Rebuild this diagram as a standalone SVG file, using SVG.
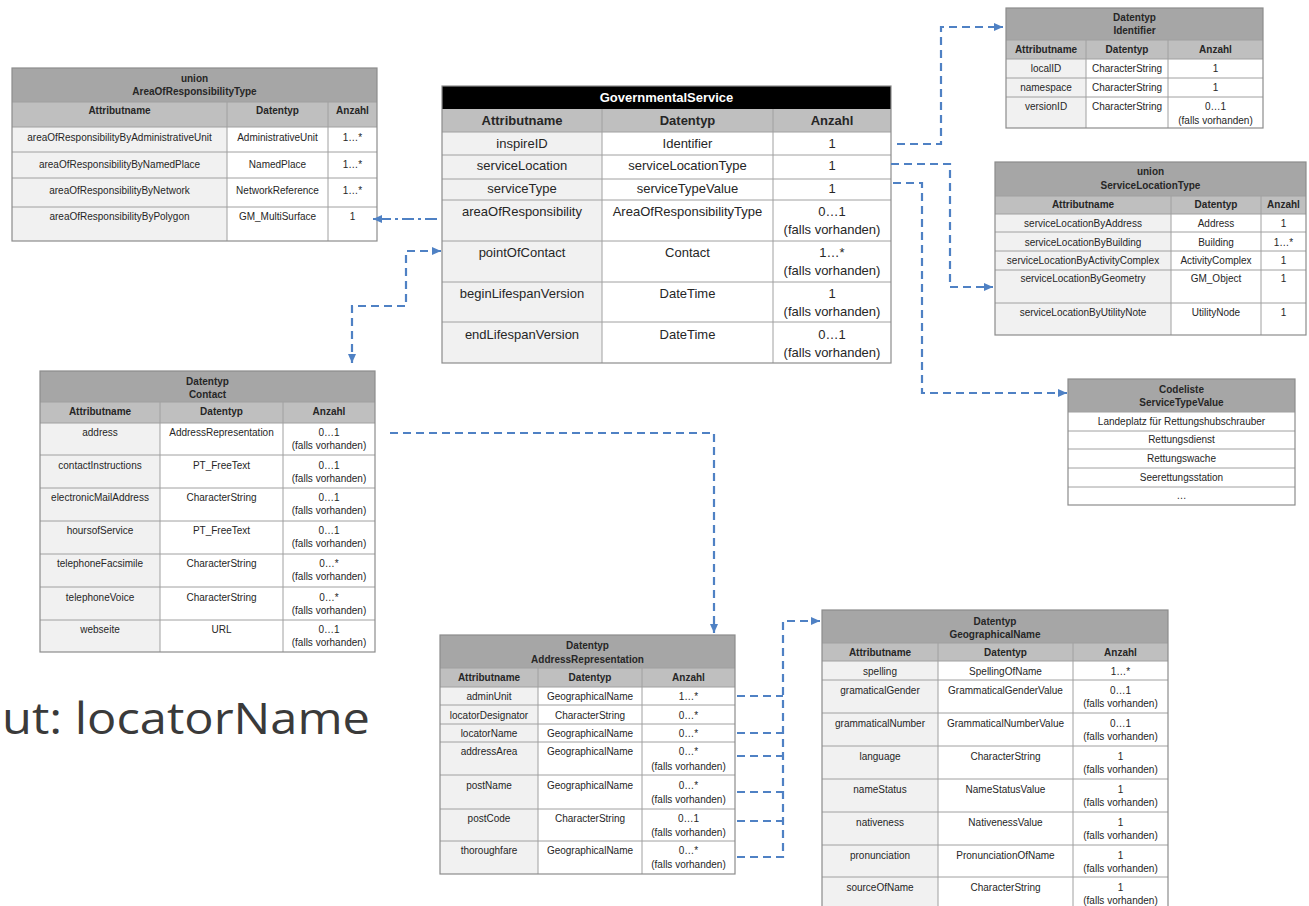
<svg xmlns="http://www.w3.org/2000/svg" width="1309" height="906" viewBox="0 0 1309 906">
<defs>
<style>
.hd{fill:#a6a6a6}
.ch{fill:#bfbfbf}
.c1{fill:#f1f1f1}
.cw{fill:#ffffff}
.ln{fill:none;stroke:#a0a0a0;stroke-width:1}
.ob{fill:none;stroke:#8c8c8c;stroke-width:1.2}
text{font-family:"Liberation Sans",Arial,sans-serif;fill:#262626;text-anchor:middle}
.s{font-size:10px}
.sb{font-size:10px;font-weight:bold}
.l{font-size:13px}
.lb{font-size:13px;font-weight:bold}
.wh{fill:#ffffff}
.cap{font-family:"Open Sans","DejaVu Sans",sans-serif;font-size:44px;fill:#3a3a3a;text-anchor:start}
.cn{fill:none;stroke:#4f81c4;stroke-width:2.2;stroke-dasharray:8 5}
.dd{fill:none;stroke:#4f81c4;stroke-width:2.2;stroke-dasharray:12 4 3 4}
</style>
<marker id="ar" markerUnits="userSpaceOnUse" markerWidth="9" markerHeight="8" refX="9" refY="4" orient="auto-start-reverse">
<path d="M0,0 L9,4 L0,8 z" fill="#4f81c4"/>
</marker>
</defs>
<rect width="1309" height="906" fill="#ffffff"/>

<!-- AreaOfResponsibilityType -->
<g id="aor">
<rect class="hd" x="12" y="68" width="365" height="34"/>
<rect class="ch" x="12" y="102" width="365" height="25"/>
<rect class="c1" x="12" y="127" width="215" height="114"/>
<rect class="cw" x="227" y="127" width="150" height="114"/>
<path class="ln" d="M12 102H377M12 127H377M12 152H377M12 178H377M12 207H377M227 102V241M328 102V241"/>
<rect class="ob" x="12" y="68" width="365" height="173"/>
<text class="sb" x="194.5" y="82">union</text>
<text class="sb" x="194.5" y="95">AreaOfResponsibilityType</text>
<text class="sb" x="119.5" y="113.5">Attributname</text>
<text class="sb" x="277.5" y="113.5">Datentyp</text>
<text class="sb" x="352.5" y="113.5">Anzahl</text>
<text class="s" x="119.5" y="140.5">areaOfResponsibilityByAdministrativeUnit</text>
<text class="s" x="277.5" y="140.5">AdministrativeUnit</text>
<text class="s" x="352.5" y="140.5">1…*</text>
<text class="s" x="119.5" y="167.5">areaOfResponsibilityByNamedPlace</text>
<text class="s" x="277.5" y="167.5">NamedPlace</text>
<text class="s" x="352.5" y="167.5">1…*</text>
<text class="s" x="119.5" y="193.5">areaOfResponsibilityByNetwork</text>
<text class="s" x="277.5" y="193.5">NetworkReference</text>
<text class="s" x="352.5" y="193.5">1…*</text>
<text class="s" x="119.5" y="219.5">areaOfResponsibilityByPolygon</text>
<text class="s" x="277.5" y="219.5">GM_MultiSurface</text>
<text class="s" x="352.5" y="219.5">1</text>
</g>

<!-- GovernmentalService -->
<g id="gs">
<rect x="442" y="86" width="449" height="23" fill="#000000"/>
<rect class="ch" x="442" y="109" width="449" height="23"/>
<rect class="c1" x="442" y="132" width="160" height="231"/>
<rect class="cw" x="602" y="132" width="289" height="231"/>
<path class="ln" d="M442 132H891M442 155H891M442 179H891M442 200H891M442 241H891M442 282H891M442 322H891M602 109V363M773 109V363"/>
<rect class="ob" x="442" y="86" width="449" height="277"/>
<text class="lb wh" x="666.5" y="102">GovernmentalService</text>
<text class="lb" x="522" y="125">Attributname</text>
<text class="lb" x="687.5" y="125">Datentyp</text>
<text class="lb" x="832" y="125">Anzahl</text>
<text class="l" x="522" y="147.5">inspireID</text>
<text class="l" x="687.5" y="147.5">Identifier</text>
<text class="l" x="832" y="147.5">1</text>
<text class="l" x="522" y="169.5">serviceLocation</text>
<text class="l" x="687.5" y="169.5">serviceLocationType</text>
<text class="l" x="832" y="169.5">1</text>
<text class="l" x="522" y="192.5">serviceType</text>
<text class="l" x="687.5" y="192.5">serviceTypeValue</text>
<text class="l" x="832" y="192.5">1</text>
<text class="l" x="522" y="215.5">areaOfResponsibility</text>
<text class="l" x="687.5" y="215.5">AreaOfResponsibilityType</text>
<text class="l" x="832" y="215.5">0…1</text>
<text class="l" x="832" y="233.5">(falls vorhanden)</text>
<text class="l" x="522" y="256.5">pointOfContact</text>
<text class="l" x="687.5" y="256.5">Contact</text>
<text class="l" x="832" y="256.5">1…*</text>
<text class="l" x="832" y="274.5">(falls vorhanden)</text>
<text class="l" x="522" y="297.5">beginLifespanVersion</text>
<text class="l" x="687.5" y="297.5">DateTime</text>
<text class="l" x="832" y="297.5">1</text>
<text class="l" x="832" y="315.5">(falls vorhanden)</text>
<text class="l" x="522" y="338.5">endLifespanVersion</text>
<text class="l" x="687.5" y="338.5">DateTime</text>
<text class="l" x="832" y="338.5">0…1</text>
<text class="l" x="832" y="356.5">(falls vorhanden)</text>
</g>

<!-- Identifier -->
<g id="identifier">
<rect class="hd" x="1006" y="8" width="257" height="32"/>
<rect class="ch" x="1006" y="40" width="257" height="19"/>
<rect class="c1" x="1006" y="59" width="80" height="69"/>
<rect class="cw" x="1086" y="59" width="177" height="69"/>
<path class="ln" d="M1006 40H1263M1006 59H1263M1006 78H1263M1006 97H1263M1086 40V128M1168 40V128"/>
<rect class="ob" x="1006" y="8" width="257" height="120"/>
<text class="sb" x="1134.5" y="21">Datentyp</text>
<text class="sb" x="1134.5" y="34">Identifier</text>
<text class="sb" x="1046" y="53">Attributname</text>
<text class="sb" x="1127" y="53">Datentyp</text>
<text class="sb" x="1215.5" y="53">Anzahl</text>
<text class="s" x="1046" y="72">localID</text>
<text class="s" x="1127" y="72">CharacterString</text>
<text class="s" x="1215.5" y="72">1</text>
<text class="s" x="1046" y="91">namespace</text>
<text class="s" x="1127" y="91">CharacterString</text>
<text class="s" x="1215.5" y="91">1</text>
<text class="s" x="1046" y="110">versionID</text>
<text class="s" x="1127" y="110">CharacterString</text>
<text class="s" x="1215.5" y="110">0…1</text>
<text class="s" x="1215.5" y="124">(falls vorhanden)</text>
</g>

<!-- ServiceLocationType -->
<g id="servicelocationtype">
<rect class="hd" x="995" y="162" width="311" height="34"/>
<rect class="ch" x="995" y="196" width="311" height="18"/>
<rect class="c1" x="995" y="214" width="176" height="121"/>
<rect class="cw" x="1171" y="214" width="135" height="121"/>
<path class="ln" d="M995 196H1306M995 214H1306M995 232H1306M995 251H1306M995 270H1306M995 303H1306M1171 196V335M1261 196V335"/>
<rect class="ob" x="995" y="162" width="311" height="173"/>
<text class="sb" x="1150.5" y="175">union</text>
<text class="sb" x="1150.5" y="188.5">ServiceLocationType</text>
<text class="sb" x="1083" y="208">Attributname</text>
<text class="sb" x="1216" y="208">Datentyp</text>
<text class="sb" x="1283.5" y="208">Anzahl</text>
<text class="s" x="1083" y="226.5">serviceLocationByAddress</text>
<text class="s" x="1216" y="226.5">Address</text>
<text class="s" x="1283.5" y="226.5">1</text>
<text class="s" x="1083" y="245.5">serviceLocationByBuilding</text>
<text class="s" x="1216" y="245.5">Building</text>
<text class="s" x="1283.5" y="245.5">1…*</text>
<text class="s" x="1083" y="263.5">serviceLocationByActivityComplex</text>
<text class="s" x="1216" y="263.5">ActivityComplex</text>
<text class="s" x="1283.5" y="263.5">1</text>
<text class="s" x="1083" y="281.5">serviceLocationByGeometry</text>
<text class="s" x="1216" y="281.5">GM_Object</text>
<text class="s" x="1283.5" y="281.5">1</text>
<text class="s" x="1083" y="315.5">serviceLocationByUtilityNote</text>
<text class="s" x="1216" y="315.5">UtilityNode</text>
<text class="s" x="1283.5" y="315.5">1</text>
</g>

<!-- ServiceTypeValue -->
<g id="servicetypevalue">
<rect class="hd" x="1068" y="379" width="227" height="33"/>
<rect class="cw" x="1068" y="412" width="227" height="93"/>
<path class="ln" d="M1068 412H1295M1068 431H1295M1068 449H1295M1068 468H1295M1068 487H1295"/>
<rect class="ob" x="1068" y="379" width="227" height="126"/>
<text class="sb" x="1181.5" y="392.5">Codeliste</text>
<text class="sb" x="1181.5" y="406">ServiceTypeValue</text>
<text class="s" x="1181.5" y="424.5">Landeplatz für Rettungshubschrauber</text>
<text class="s" x="1181.5" y="443">Rettungsdienst</text>
<text class="s" x="1181.5" y="461.5">Rettungswache</text>
<text class="s" x="1181.5" y="480.5">Seerettungsstation</text>
<text class="s" x="1181.5" y="499">…</text>
</g>

<!-- Contact -->
<g id="contact">
<rect class="hd" x="40" y="371" width="335" height="31"/>
<rect class="ch" x="40" y="402" width="335" height="21"/>
<rect class="c1" x="40" y="423" width="120" height="229"/>
<rect class="cw" x="160" y="423" width="215" height="229"/>
<path class="ln" d="M40 402H375M40 423H375M40 455H375M40 488H375M40 521H375M40 554H375M40 587H375M40 620H375M160 402V652M283 402V652"/>
<rect class="ob" x="40" y="371" width="335" height="281"/>
<text class="sb" x="207.5" y="385">Datentyp</text>
<text class="sb" x="207.5" y="397.5">Contact</text>
<text class="sb" x="100" y="414.5">Attributname</text>
<text class="sb" x="221.5" y="414.5">Datentyp</text>
<text class="sb" x="329" y="414.5">Anzahl</text>
<text class="s" x="100" y="435.5">address</text>
<text class="s" x="221.5" y="435.5">AddressRepresentation</text>
<text class="s" x="329" y="435.5">0…1</text>
<text class="s" x="329" y="448.5">(falls vorhanden)</text>
<text class="s" x="100" y="468.5">contactInstructions</text>
<text class="s" x="221.5" y="468.5">PT_FreeText</text>
<text class="s" x="329" y="468.5">0…1</text>
<text class="s" x="329" y="481.5">(falls vorhanden)</text>
<text class="s" x="100" y="501">electronicMailAddress</text>
<text class="s" x="221.5" y="501">CharacterString</text>
<text class="s" x="329" y="501">0…1</text>
<text class="s" x="329" y="514">(falls vorhanden)</text>
<text class="s" x="100" y="534">hoursofService</text>
<text class="s" x="221.5" y="534">PT_FreeText</text>
<text class="s" x="329" y="534">0…1</text>
<text class="s" x="329" y="547">(falls vorhanden)</text>
<text class="s" x="100" y="567">telephoneFacsimile</text>
<text class="s" x="221.5" y="567">CharacterString</text>
<text class="s" x="329" y="567">0…*</text>
<text class="s" x="329" y="580">(falls vorhanden)</text>
<text class="s" x="100" y="600.5">telephoneVoice</text>
<text class="s" x="221.5" y="600.5">CharacterString</text>
<text class="s" x="329" y="600.5">0…*</text>
<text class="s" x="329" y="613.5">(falls vorhanden)</text>
<text class="s" x="100" y="632.5">webseite</text>
<text class="s" x="221.5" y="632.5">URL</text>
<text class="s" x="329" y="632.5">0…1</text>
<text class="s" x="329" y="645.5">(falls vorhanden)</text>
</g>

<!-- AddressRepresentation -->
<g id="addressrepresentation">
<rect class="hd" x="440" y="635" width="295" height="33"/>
<rect class="ch" x="440" y="668" width="295" height="19"/>
<rect class="c1" x="440" y="687" width="98" height="187"/>
<rect class="cw" x="538" y="687" width="197" height="187"/>
<path class="ln" d="M440 668H735M440 687H735M440 705H735M440 724H735M440 742H735M440 775H735M440 809H735M440 841H735M538 668V874M642 668V874"/>
<rect class="ob" x="440" y="635" width="295" height="239"/>
<text class="sb" x="587.5" y="648.5">Datentyp</text>
<text class="sb" x="587.5" y="662.5">AddressRepresentation</text>
<text class="sb" x="489" y="680.5">Attributname</text>
<text class="sb" x="590" y="680.5">Datentyp</text>
<text class="sb" x="688.5" y="680.5">Anzahl</text>
<text class="s" x="489" y="700">adminUnit</text>
<text class="s" x="590" y="700">GeographicalName</text>
<text class="s" x="688.5" y="700">1…*</text>
<text class="s" x="489" y="718.5">locatorDesignator</text>
<text class="s" x="590" y="718.5">CharacterString</text>
<text class="s" x="688.5" y="718.5">0…*</text>
<text class="s" x="489" y="737">locatorName</text>
<text class="s" x="590" y="737">GeographicalName</text>
<text class="s" x="688.5" y="737">0…*</text>
<text class="s" x="489" y="755">addressArea</text>
<text class="s" x="590" y="755">GeographicalName</text>
<text class="s" x="688.5" y="755">0…*</text>
<text class="s" x="688.5" y="769.5">(falls vorhanden)</text>
<text class="s" x="489" y="788.5">postName</text>
<text class="s" x="590" y="788.5">GeographicalName</text>
<text class="s" x="688.5" y="788.5">0…*</text>
<text class="s" x="688.5" y="803">(falls vorhanden)</text>
<text class="s" x="489" y="821.5">postCode</text>
<text class="s" x="590" y="821.5">CharacterString</text>
<text class="s" x="688.5" y="821.5">0…1</text>
<text class="s" x="688.5" y="836">(falls vorhanden)</text>
<text class="s" x="489" y="853.5">thoroughfare</text>
<text class="s" x="590" y="853.5">GeographicalName</text>
<text class="s" x="688.5" y="853.5">0…*</text>
<text class="s" x="688.5" y="868">(falls vorhanden)</text>
</g>

<!-- GeographicalName -->
<g id="geographicalname">
<rect class="hd" x="822" y="610" width="346" height="33"/>
<rect class="ch" x="822" y="643" width="346" height="18"/>
<rect class="c1" x="822" y="661" width="116" height="250"/>
<rect class="cw" x="938" y="661" width="230" height="250"/>
<path class="ln" d="M822 643H1168M822 661H1168M822 680H1168M822 713H1168M822 746H1168M822 779H1168M822 812H1168M822 845H1168M822 877H1168M938 643V911M1073 643V911"/>
<rect class="ob" x="822" y="610" width="346" height="301"/>
<text class="sb" x="995" y="624.5">Datentyp</text>
<text class="sb" x="995" y="637.5">GeographicalName</text>
<text class="sb" x="880" y="655.5">Attributname</text>
<text class="sb" x="1005.5" y="655.5">Datentyp</text>
<text class="sb" x="1120.5" y="655.5">Anzahl</text>
<text class="s" x="880" y="674.5">spelling</text>
<text class="s" x="1005.5" y="674.5">SpellingOfName</text>
<text class="s" x="1120.5" y="674.5">1…*</text>
<text class="s" x="880" y="693.5">gramaticalGender</text>
<text class="s" x="1005.5" y="693.5">GrammaticalGenderValue</text>
<text class="s" x="1120.5" y="693.5">0…1</text>
<text class="s" x="1120.5" y="706.5">(falls vorhanden)</text>
<text class="s" x="880" y="726.5">grammaticalNumber</text>
<text class="s" x="1005.5" y="726.5">GrammaticalNumberValue</text>
<text class="s" x="1120.5" y="726.5">0…1</text>
<text class="s" x="1120.5" y="739.5">(falls vorhanden)</text>
<text class="s" x="880" y="759.5">language</text>
<text class="s" x="1005.5" y="759.5">CharacterString</text>
<text class="s" x="1120.5" y="759.5">1</text>
<text class="s" x="1120.5" y="773">(falls vorhanden)</text>
<text class="s" x="880" y="792.5">nameStatus</text>
<text class="s" x="1005.5" y="792.5">NameStatusValue</text>
<text class="s" x="1120.5" y="792.5">1</text>
<text class="s" x="1120.5" y="806">(falls vorhanden)</text>
<text class="s" x="880" y="825.5">nativeness</text>
<text class="s" x="1005.5" y="825.5">NativenessValue</text>
<text class="s" x="1120.5" y="825.5">1</text>
<text class="s" x="1120.5" y="839">(falls vorhanden)</text>
<text class="s" x="880" y="858.5">pronunciation</text>
<text class="s" x="1005.5" y="858.5">PronunciationOfName</text>
<text class="s" x="1120.5" y="858.5">1</text>
<text class="s" x="1120.5" y="872">(falls vorhanden)</text>
<text class="s" x="880" y="890.5">sourceOfName</text>
<text class="s" x="1005.5" y="890.5">CharacterString</text>
<text class="s" x="1120.5" y="890.5">1</text>
<text class="s" x="1120.5" y="904">(falls vorhanden)</text>
</g>

<!-- stray caption -->
<text class="cap" x="2" y="734" textLength="368" lengthAdjust="spacingAndGlyphs">ut: locatorName</text>

<!-- connectors -->
<g id="connectors">
<path class="cn" d="M897 144H941V27H1003" marker-end="url(#ar)"/>
<path class="cn" d="M891 164H950V287H993" marker-end="url(#ar)"/>
<path class="cn" d="M893 183H922V393H1067" marker-end="url(#ar)"/>
<path class="dd" d="M437 219H373" marker-end="url(#ar)"/>
<path class="cn" d="M441 251H406V306H352V363" marker-start="url(#ar)" marker-end="url(#ar)"/>
<path class="cn" d="M390 433H714V633" marker-end="url(#ar)"/>
<path class="cn" d="M737 857H783V621H820" marker-end="url(#ar)"/>
<path class="cn" d="M737 696H783M737 733H783M737 756H783M737 792H783M737 821H783"/>
</g>
</svg>
